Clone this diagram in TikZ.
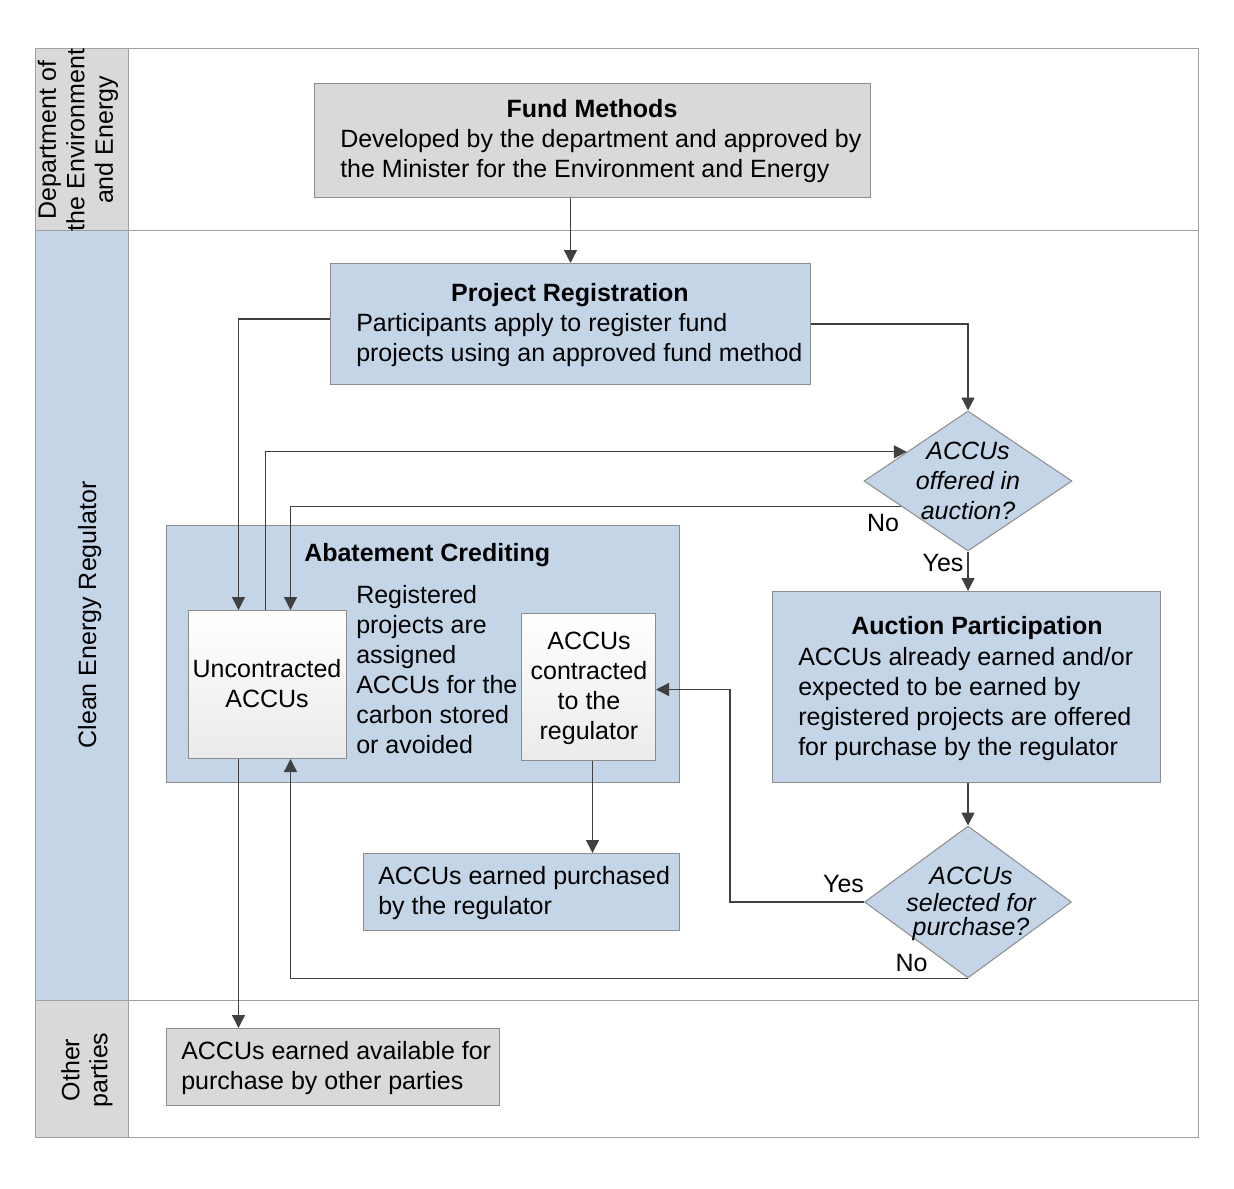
\documentclass[tikz,border=0pt]{standalone}
\usepackage{fontspec}
\setmainfont{Liberation Sans}
\usetikzlibrary{arrows.meta,shapes.geometric,calc}
\definecolor{lanegray}{RGB}{217,217,217}
\definecolor{laneblue}{RGB}{196,213,232}
\definecolor{edgegray}{RGB}{140,140,140}
\definecolor{framegray}{RGB}{160,160,160}
\definecolor{arrowgray}{RGB}{64,64,64}
\begin{document}
\begin{tikzpicture}[x=0.75pt,y=-0.75pt,
  txt/.style={font=\fontsize{18.75}{22.5}\selectfont, inner sep=0pt},
  ttl/.style={font=\bfseries\fontsize{18.75}{22.5}\selectfont, inner sep=0pt, anchor=base},
  qtxt/.style={font=\itshape\fontsize{18.75}{22.5}\selectfont, inner sep=0pt, align=center, anchor=north},
  graybox/.style={draw=edgegray, fill=lanegray, line width=0.75pt, inner sep=0pt, anchor=north west},
  bluebox/.style={draw=edgegray, fill=laneblue, line width=0.75pt, inner sep=0pt, anchor=north west},
  whitebox/.style={draw=edgegray, top color=white, bottom color=black!8, line width=0.75pt, inner sep=0pt, anchor=north west},
  decision/.style={diamond, draw=edgegray, fill=laneblue, line width=0.75pt, inner sep=0pt},
  arr/.style={draw=arrowgray, line width=1pt, -{Triangle[length=9.75pt,width=9.75pt]}},
  lane/.style={draw=framegray, line width=0.75pt},
]
\useasboundingbox (0,0) rectangle (1234,1188);
% lanes
\fill[lanegray] (35,49) rectangle (128,230);
\fill[laneblue] (35,230) rectangle (128,1000);
\fill[lanegray] (35,1000) rectangle (128,1137);
\draw[lane] (35,49) rectangle (1198,1137);
\draw[lane] (128,49) -- (128,1137);
\draw[lane] (35,230) -- (1198,230);
\draw[lane] (35,1000) -- (1198,1000);
\node[txt, rotate=90, align=center, font=\fontsize{18.75}{21.4}\selectfont] (lane1) at (78,140) {Department of\\the Environment\\and Energy};
\node[txt, rotate=90, anchor=base] (lane2) at (96,615) {Clean Energy Regulator};
\node[txt, rotate=90, align=center, font=\fontsize{18.75}{21}\selectfont] (lane3) at (87,1070) {Other\\parties};
% boxes
\node[graybox, minimum width=417pt, minimum height=85.5pt] (fund) at (314,83) {};
\node[bluebox, minimum width=360pt, minimum height=90.75pt] (reg) at (330,263) {};
\node[bluebox, minimum width=384.75pt, minimum height=192.75pt] (abat) at (166,525) {};
\node[whitebox, minimum width=118.5pt, minimum height=111pt] (unc) at (188,610) {};
\node[whitebox, minimum width=100.5pt, minimum height=110.25pt] (con) at (521,613) {};
\node[bluebox, minimum width=291pt, minimum height=143.25pt] (auc) at (772,591) {};
\node[bluebox, minimum width=237pt, minimum height=57.75pt] (pur) at (363,853) {};
\node[graybox, minimum width=249.75pt, minimum height=57.75pt] (avail) at (166,1028) {};
\node[decision, minimum width=156pt, minimum height=105pt] (d1) at (968,481) {};
\node[decision, minimum width=155.25pt, minimum height=114pt] (d2) at (968,902) {};
% connectors
\coordinate (uA) at ($(unc.north)+(-29,0)$);
\coordinate (uB) at ($(unc.north)+(-2,0)$);
\coordinate (uC) at ($(unc.north)+(23,0)$);
\coordinate (uD) at ($(unc.south)+(23,0)$);
\coordinate (us) at ($(unc.south)+(-29,0)$);
\coordinate (cs) at ($(con.south)+(4,0)$);
\coordinate (regL) at ($(reg.west)+(0,-5)$);
\coordinate (d1in) at ($(d1.west)!0.414!(d1.north)$);
\coordinate (d1no) at ($(d1.west)!0.357!(d1.south)$);
\coordinate (conR) at ($(con.east)+(0,2.5)$);
\coordinate (yesX) at ($(conR)+(74,0)$);
\draw[arr] (reg.north |- fund.south) -- (reg.north);
\draw[arr] (regL) -| (uA);
\draw[arr] (reg.east) -| (d1.north);
\draw[arr] (uB) |- (d1in);
\draw[arr] (d1no) -| (uC);
\draw[arr] (d1.south) -- (d1.south |- auc.north);
\draw[arr] (auc.south -| d2.north) -- (d2.north);
\draw[arr] (d2.west) -| (yesX) -- (conR);
\draw[arr] (d2.south) -| (uD);
\draw[arr] (cs) -- (cs |- pur.north);
\draw[arr] (us) -- (us |- avail.north);
% texts
\node[ttl] (fundT) at (592,117) {Fund Methods};
\node[txt, align=left, anchor=north west] (fundB) at (340,126) {\strut Developed by the department and approved by\\the Minister for the Environment and Energy};
\node[ttl] (regT) at (570,301) {Project Registration};
\node[txt, align=left, anchor=north west] (regB) at (356,310) {\strut Participants apply to register fund\\projects using an approved fund method};
\node[qtxt] (d1T) at (968,438) {\strut ACCUs\\offered in\\auction?};
\node[txt, anchor=base] (no1) at (883,531) {No};
\node[txt, anchor=base] (yes1) at (943,571) {Yes};
\node[ttl, anchor=base west] (abatT) at (304,561) {Abatement Crediting};
\node[txt, align=left, anchor=north west] (abatB) at (356,582) {\strut Registered\\projects are\\assigned\\ACCUs for the\\carbon stored\\or avoided};
\node[txt, align=center, anchor=north] (uncT) at (267,656) {\strut Uncontracted\\ACCUs};
\node[txt, align=center, anchor=north] (conT) at (589,628) {\strut ACCUs\\contracted\\to the\\regulator};
\node[ttl] (aucT) at (977,634) {Auction Participation};
\node[txt, align=left, anchor=north west] (aucB) at (798,644) {\strut ACCUs already earned and/or\\expected to be earned by\\registered projects are offered\\for purchase by the regulator};
\node[qtxt, font=\itshape\fontsize{18.75}{18.4}\selectfont] (d2T) at (971,866.8) {\strut ACCUs\\selected for\\purchase?};
\node[txt, anchor=base] (yes2) at (843.5,892) {Yes};
\node[txt, anchor=base] (no2) at (911.5,971) {No};
\node[txt, align=left, anchor=north west] (purT) at (378,863) {\strut ACCUs earned purchased\\by the regulator};
\node[txt, align=left, anchor=north west] (availT) at (181,1038) {\strut ACCUs earned available for\\purchase by other parties};
\end{tikzpicture}
\end{document}
